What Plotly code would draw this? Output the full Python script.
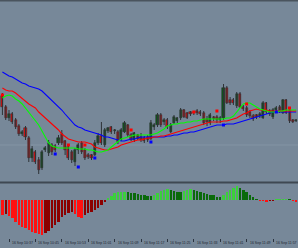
import plotly.graph_objects as go

# ---- data (bar index 0..89 = 16 Sep 10:35 .. 12:04, 1-minute bars) ----
opens = [104, 93, 82, 86, 80, 74, 66, 72, 62, 42, 48, 40, 32, 50, 47, 55, 54, 57, 66, 59,
         53, 48, 38, 50, 57, 50, 45, 45, 45, 57, 64, 55, 69, 73, 69, 68, 60, 68, 75, 65,
         60, 65, 63, 62, 63, 61, 73, 75, 85, 78, 80, 68, 77, 79, 82, 90, 87, 88, 88, 89,
         88, 87, 81, 77, 83, 83, 80, 82, 112, 100, 100, 94, 106, 93, 92, 88, 84, 85, 84, 82,
         97, 89, 83, 90, 93, 87, 100, 90, 80, 79]
highs = [107, 95, 90, 88, 82, 76, 70, 74, 64, 54, 50, 43, 50, 54, 60, 57, 56, 65, 70, 60,
         56, 50, 52, 57, 59, 52, 47, 46, 60, 67, 78, 72, 73, 74, 71, 70, 72, 79, 76, 67,
         68, 66, 67, 64, 65, 80, 77, 87, 87, 82, 82, 77, 85, 83, 92, 91, 88, 89, 89, 91,
         90, 89, 84, 87, 84, 85, 84, 116, 114, 103, 102, 108, 108, 95, 94, 90, 86, 86, 88, 99,
         98, 91, 92, 94, 95, 101, 101, 92, 81, 81]
lows = [85, 80, 79, 76, 71, 64, 64, 60, 38, 38, 36, 26, 30, 48, 44, 45, 48, 55, 55, 45,
        40, 37, 34, 46, 46, 40, 41, 40, 44, 55, 55, 53, 67, 66, 66, 56, 59, 67, 63, 59,
        58, 60, 58, 57, 58, 60, 70, 73, 73, 75, 71, 67, 76, 77, 80, 82, 81, 84, 85, 85,
        84, 75, 74, 75, 79, 77, 77, 80, 96, 95, 95, 92, 92, 89, 83, 82, 79, 81, 82, 81,
        86, 84, 81, 87, 87, 86, 86, 77, 77, 78]
closes = [93, 82, 86, 78, 73, 66, 68, 63, 42, 51, 38, 30, 48, 52, 57, 48, 50, 62, 57, 50,
          42, 40, 50, 55, 48, 42, 43, 42, 57, 64, 57, 70, 72, 68, 70, 58, 70, 77, 65, 60,
          67, 61, 60, 59, 60, 77, 75, 85, 75, 80, 73, 75, 83, 82, 90, 83, 82, 86, 87, 87,
          86, 77, 78, 85, 81, 80, 82, 112, 97, 97, 97, 106, 93, 91, 85, 84, 81, 83, 86, 97,
          88, 86, 90, 92, 88, 100, 87, 79, 78, 80]

ma_fast = [102, 104, 105, 104, 101, 99, 96, 92, 87, 83, 79, 75, 69, 63, 57, 54, 53, 52, 52, 52,
           52, 52, 52, 51, 51, 51, 50, 50, 49, 48, 48, 49, 50, 53, 56, 59, 61, 62, 63, 64,
           65, 65, 65, 65, 65, 65, 66, 67, 69, 71, 74, 75, 76, 76, 77, 77, 78, 78, 79, 79,
           80, 81, 81, 81, 81, 81, 81, 81, 82, 82, 84, 88, 92, 96, 97, 97, 95, 93, 91, 90,
           89, 88, 88, 88, 89, 89, 90, 90, 90, 90]
ma_mid = [112, 110, 109, 109, 107, 104, 101, 98, 96, 94, 92, 88, 85, 82, 80, 77, 74, 70, 66, 63,
          61, 60, 59, 58, 58, 58, 57, 56, 53, 52, 51, 50, 50, 51, 52, 53, 55, 56, 57, 58,
          59, 60, 60, 61, 62, 62, 63, 63, 64, 64, 65, 66, 67, 68, 69, 70, 71, 72, 73, 74,
          75, 76, 77, 78, 78, 78, 78, 79, 79, 80, 81, 82, 84, 86, 87, 89, 90, 91, 90, 90,
          90, 89, 89, 89, 89, 89, 89, 89, 89, 89]
ma_slow = [128, 126, 124, 123, 121, 119, 117, 116, 114, 113, 112, 111, 109, 106, 103, 100, 97, 94, 90, 86,
           82, 78, 75, 73, 72, 70, 69, 68, 67, 66, 65, 63, 63, 62, 61, 60, 59, 59, 60, 61,
           61, 62, 63, 63, 63, 63, 63, 63, 63, 63, 64, 64, 65, 65, 66, 67, 67, 68, 68, 69,
           70, 71, 72, 73, 74, 75, 75, 75, 76, 76, 76, 77, 78, 79, 80, 81, 82, 83, 84, 85,
           86, 87, 88, 88, 88, 88, 88, 88, 88, 88]

fractal_up_idx = [0, 20, 25, 39, 58, 65, 74, 87]
fractal_up_val = [105, 55, 55, 70, 88, 89, 96, 92]
fractal_dn_idx = [16, 23, 28, 45, 67, 83]
fractal_dn_val = [46, 33, 42, 58, 75, 88]

level_line = 55

ao = [-15, -14, -16, -18, -22, -25, -27, -28, -30, -32, -33, -34, -35, -33, -31, -28, -25, -22, -17, -15,
      -13, -12, -14, -17, -17.5, -15, -13, -12, -10, -8, -5, -1.5, 2, 4.5, 7, 8, 8.3, 8.5, 8, 7.5,
      7, 6.5, 5.5, 5, 4.5, 4.2, 5, 7, 9, 10.5, 11, 10, 9, 8.5, 8.3, 9, 10.5, 11, 10, 9.5,
      8.5, 7.5, 6.5, 5.5, 5, 3.5, 3, 5.5, 8, 10, 12, 14, 12, 10, 8, 5.5, 3, 1, -0.3, -1,
      -1.2, -0.8, -0.5, 0.3, 0.6, 0.8, 1.0, 0.5, -0.6, -1.5]

tick_idx = [-6, 2, 10, 18, 26, 34, 42, 50, 58, 66, 74, 82]
tick_text = ["16 Sep 10:29", "16 Sep 10:37", "16 Sep 10:45", "16 Sep 10:53", "16 Sep 11:01",
             "16 Sep 11:09", "16 Sep 11:17", "16 Sep 11:25", "16 Sep 11:33", "16 Sep 11:41",
             "16 Sep 11:49", "16 Sep 11:57"]

# ---- styling ----
BG = "#778899"
BULL = "#0e5a1a"
BEAR = "#e21010"
WICK = "#2e3236"

n = len(opens)
idx = list(range(n))

fig = go.Figure()

# wicks
wx, wy = [], []
for i in idx:
    wx += [i, i, None]
    wy += [lows[i], highs[i], None]
fig.add_trace(go.Scatter(x=wx, y=wy, mode="lines", line=dict(color=WICK, width=1),
                         xaxis="x", yaxis="y", hoverinfo="skip"))

# bodies
base = [min(o, c) for o, c in zip(opens, closes)]
height = [max(abs(c - o), 0.7) for o, c in zip(opens, closes)]
bcol = [BULL if c > o else (BEAR if c < o else WICK) for o, c in zip(opens, closes)]
fig.add_trace(go.Bar(x=idx, y=height, base=base, width=0.62,
                     marker=dict(color=bcol, line=dict(color="#222222", width=0.5)),
                     xaxis="x", yaxis="y", hoverinfo="skip"))

# moving averages
for vals, col in ((ma_slow, "#0000ff"), (ma_mid, "#ff0000"), (ma_fast, "#00ff00")):
    fig.add_trace(go.Scatter(x=idx, y=vals, mode="lines", line=dict(color=col, width=1.1),
                             xaxis="x", yaxis="y", hoverinfo="skip"))

# fractals
fig.add_trace(go.Scatter(x=fractal_up_idx, y=fractal_up_val, mode="markers",
                         marker=dict(color="#ff0000", size=3, symbol="square"),
                         xaxis="x", yaxis="y"))
fig.add_trace(go.Scatter(x=fractal_dn_idx, y=fractal_dn_val, mode="markers",
                         marker=dict(color="#0000ff", size=3, symbol="square"),
                         xaxis="x", yaxis="y"))

# AO histogram
acol = []
for i, v in enumerate(ao):
    prev = ao[i - 1] if i > 0 else v + 1
    if v < 0:
        acol.append("#ff1010" if v < prev else "#8b0000")
    else:
        acol.append("#3ccf3c" if v > prev else "#0a6a0a")
fig.add_trace(go.Bar(x=idx, y=ao, width=0.72, marker=dict(color=acol, line=dict(width=0)),
                     xaxis="x2", yaxis="y2", hoverinfo="skip"))

H = 248.0
def py(p):
    return 1 - p / H

xr = [-0.73, 89.57]
fig.update_layout(
    width=298, height=248, margin=dict(l=0, r=0, t=0, b=0),
    paper_bgcolor=BG, plot_bgcolor=BG, showlegend=False, bargap=0,
    xaxis=dict(domain=[0, 1], range=xr, visible=False, anchor="y"),
    yaxis=dict(domain=[py(181), py(2)], range=[19, 198], visible=False, anchor="x"),
    xaxis2=dict(domain=[0, 1], range=xr, anchor="y2", showgrid=False, zeroline=False,
                showline=False, showticklabels=False, ticks="outside", ticklen=3,
                tickcolor="#2b3440", tickwidth=1, tickvals=tick_idx[1:]),
    yaxis2=dict(domain=[py(238), py(185)], range=[-38, 15], visible=False, anchor="x2"),
    shapes=[
        dict(type="rect", xref="paper", yref="paper", x0=0, x1=1, y0=py(1.5), y1=1,
             fillcolor="#4a545e", line=dict(width=0)),
        dict(type="rect", xref="paper", yref="paper", x0=0, x1=1, y0=py(183.5), y1=py(181.5),
             fillcolor="#3f4852", line=dict(width=0)),
        dict(type="line", xref="paper", yref="y", x0=0, x1=1, y0=level_line, y1=level_line,
             line=dict(color="#8494a4", width=1), layer="below"),
    ],
)

for ti, tt in zip(tick_idx, tick_text):
    fig.add_annotation(x=ti, y=py(239), xref="x2", yref="paper", text=tt, showarrow=False,
                       xanchor="left", yanchor="top", xshift=1,
                       font=dict(family="Liberation Sans", size=3.5, color="#1c2530"))

fig.write_html("out.html")
